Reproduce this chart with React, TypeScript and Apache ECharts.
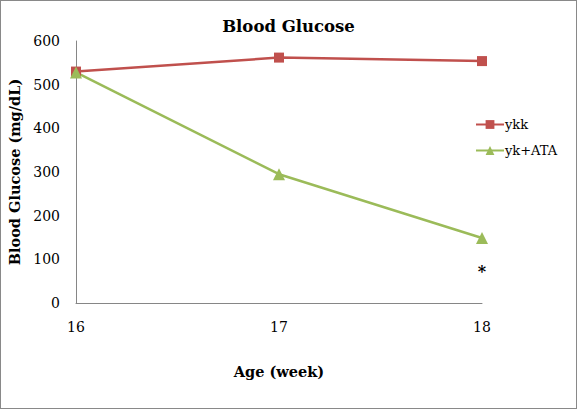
import React, { useEffect, useRef } from "react";
import * as echarts from "echarts";

const weeks = [16, 17, 18];
const ykk = [530, 562, 554];
const ykATA = [528, 295, 149];
const yTicks = [0, 100, 200, 300, 400, 500, 600];

const FONT = "DejaVu Serif";

export default function App() {
  const ref = useRef<HTMLDivElement>(null);
  useEffect(() => {
    const chart = echarts.init(ref.current!, null, { renderer: "svg" });
    chart.setOption({
      animation: false,
      backgroundColor: "#ffffff",
      textStyle: { fontFamily: FONT },
      title: {
        text: "Blood Glucose",
        left: "center",
        top: 12,
        textStyle: { fontFamily: FONT, fontSize: 16.5, fontWeight: "bold", color: "#000" },
      },
      legend: {
        orient: "vertical",
        left: 469,
        top: 112,
        itemGap: 13,
        itemWidth: 28,
        itemHeight: 11,
        textStyle: { fontFamily: FONT, fontSize: 13, color: "#000", padding: [0, 0, 0, -4] },
        data: ["ykk", "yk+ATA"],
      },
      grid: { left: 75, right: 94, top: 40, bottom: 105, outerBoundsMode: "none" },
      xAxis: {
        type: "value",
        min: weeks[0],
        max: weeks[weeks.length - 1],
        interval: 1,
        name: "Age (week)",
        nameLocation: "middle",
        nameGap: 61,
        nameTextStyle: { fontFamily: FONT, fontSize: 14.5, fontWeight: "bold", color: "#000" },
        axisLine: { lineStyle: { color: "#868686", width: 1 } },
        axisTick: { show: false },
        splitLine: { show: false },
        axisLabel: { fontFamily: FONT, fontSize: 14, color: "#000", margin: 17 },
      },
      yAxis: {
        type: "value",
        min: yTicks[0],
        max: yTicks[yTicks.length - 1],
        interval: 100,
        name: "Blood Glucose (mg/dL)",
        nameLocation: "middle",
        nameGap: 52,
        nameTextStyle: { fontFamily: FONT, fontSize: 14.5, fontWeight: "bold", color: "#000" },
        axisLine: { show: true, lineStyle: { color: "#868686", width: 1 } },
        axisTick: { show: false },
        splitLine: { show: false },
        axisLabel: { fontFamily: FONT, fontSize: 14, color: "#000", margin: 16 },
      },
      series: [
        {
          name: "ykk",
          type: "line",
          data: weeks.map((w, i) => [w, ykk[i]]),
          symbol: "rect",
          symbolSize: 10,
          color: "#C0504D",
          lineStyle: { width: 2.5, color: "#C0504D" },
          itemStyle: { color: "#C0504D" },
        },
        {
          name: "yk+ATA",
          type: "line",
          data: weeks.map((w, i) =>
            i === weeks.length - 1
              ? {
                  value: [w, ykATA[i]],
                  label: {
                    show: true,
                    formatter: "*",
                    position: "bottom",
                    distance: 20,
                    fontFamily: FONT,
                    fontSize: 16,
                    fontWeight: "bold",
                    color: "#000",
                  },
                }
              : [w, ykATA[i]]
          ),
          symbol: "triangle",
          symbolSize: 12,
          color: "#9BBB59",
          lineStyle: { width: 2.5, color: "#9BBB59" },
          itemStyle: { color: "#9BBB59" },
        },
      ],
    });
    return () => chart.dispose();
  }, []);
  return (
    <div
      style={{
        position: "fixed",
        left: 0,
        top: 0,
        width: 577,
        height: 409,
        boxSizing: "border-box",
        border: "1px solid #898989",
        background: "#fff",
      }}
    >
      <div ref={ref} style={{ width: 575, height: 407 }} />
    </div>
  );
}
